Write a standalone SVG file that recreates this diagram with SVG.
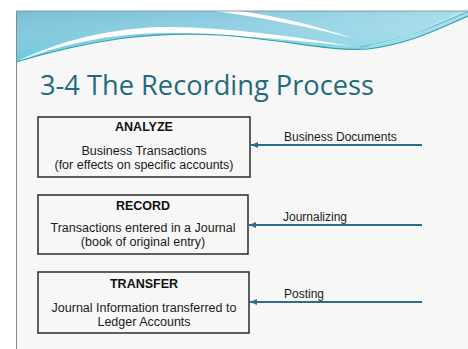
<svg xmlns="http://www.w3.org/2000/svg" width="468" height="349" viewBox="0 0 468 349">
  <style>
    .box { fill: none; stroke: #2b2b2b; stroke-width: 1.5; }
    .head { font-family: "Liberation Sans", Arial, sans-serif; font-size: 12.5px; font-weight: bold; fill: #111; text-anchor: middle; }
    .body { font-family: "Liberation Sans", Arial, sans-serif; font-size: 12.5px; fill: #1a1a1a; text-anchor: middle; }
    .lbl { font-family: "Liberation Sans", Arial, sans-serif; font-size: 12px; fill: #1a1a1a; }
    .arrow { stroke: #2a6f86; stroke-width: 2; fill: none; marker-start: url(#head); }
  </style>
  <defs>
    <linearGradient id="sky" x1="0" y1="0" x2="1" y2="0">
      <stop offset="0" stop-color="#74bfd8"/>
      <stop offset="0.5" stop-color="#88cbe0"/>
      <stop offset="1" stop-color="#a6dcea"/>
    </linearGradient>
    <linearGradient id="skyv" x1="0" y1="0" x2="0" y2="1">
      <stop offset="0" stop-color="#ffffff" stop-opacity="0"/>
      <stop offset="1" stop-color="#5fd3e0" stop-opacity="0.5"/>
    </linearGradient>
    <marker id="head" markerWidth="8" markerHeight="8" refX="1" refY="4" orient="auto" markerUnits="userSpaceOnUse">
      <path d="M8,1 L1,4 L8,7 Z" fill="#2a6f86"/>
    </marker>
  </defs>

  <!-- page and slide background -->
  <rect x="0" y="0" width="468" height="349" fill="#ffffff"/>
  <rect x="16" y="11" width="452" height="338" fill="#f7f7f7"/>

  <!-- header wave -->
  <g id="header">
    <path d="M16,11 H468 V16 C440,28 410,44 368,49 C330,52 290,40 220,35 C150,31 90,40 16,62 Z" fill="url(#sky)"/>
    <path d="M16,11 H468 V16 C440,28 410,44 368,49 C330,52 290,40 220,35 C150,31 90,40 16,62 Z" fill="url(#skyv)"/>
    <!-- white swoosh above the lower edge -->
    <path d="M16,62 C50,45 100,29 160,27 C220,26 290,36 352,46 C290,40 220,33 160,33 C110,34 60,44 16,62 Z" fill="#ffffff"/>
    <!-- white stripe upper right -->
    <path d="M214,11 C260,17 310,27 352,38 C318,26 272,15 238,11 Z" fill="#ffffff"/>
    <!-- teal edge lines -->
    <path d="M16,62 C90,40 150,31 220,35 C290,40 330,52 368,49 C410,44 440,28 468,16" fill="none" stroke="#2aa3b3" stroke-width="1.2"/>
    <path d="M360,47 C405,40 438,24 468,12" fill="none" stroke="#3bb0c0" stroke-width="0.8"/>
    <path d="M370,46 C410,38 440,22 468,9" fill="none" stroke="#c8eef3" stroke-width="0.8"/>
  </g>

  <!-- slide frame lines -->
  <line x1="16" y1="11" x2="468" y2="11" stroke="#8a9aa0" stroke-width="1"/>
  <line x1="16.5" y1="11" x2="16.5" y2="349" stroke="#8a8a8a" stroke-width="1"/>

  <!-- title -->
  <text x="40" y="95" font-family="'Open Sans', 'Noto Sans', sans-serif" font-size="28" fill="#1f6b7c" textLength="334" lengthAdjust="spacingAndGlyphs">3-4 The Recording Process</text>

  <!-- process steps -->
  <g id="analyze">
    <rect class="box" x="38" y="117" width="212" height="60"/>
    <text class="head" x="144" y="131">ANALYZE</text>
    <text class="body" x="144" y="155">Business Transactions</text>
    <text class="body" x="144" y="169">(for effects on specific accounts)</text>
  </g>
  <g id="record">
    <rect class="box" x="38" y="195" width="210" height="59"/>
    <text class="head" x="143" y="210">RECORD</text>
    <text class="body" x="143" y="232">Transactions entered in a Journal</text>
    <text class="body" x="143" y="246">(book of original entry)</text>
  </g>
  <g id="transfer">
    <rect class="box" x="38" y="272" width="211" height="61"/>
    <text class="head" x="144" y="288">TRANSFER</text>
    <text class="body" x="144" y="312">Journal Information transferred to</text>
    <text class="body" x="144" y="326">Ledger Accounts</text>
  </g>

  <!-- source labels -->
  <g id="business-documents">
    <text class="lbl" x="284" y="141">Business Documents</text>
  </g>
  <g id="journalizing">
    <text class="lbl" x="283" y="221">Journalizing</text>
  </g>
  <g id="posting">
    <text class="lbl" x="284" y="298">Posting</text>
  </g>

  <!-- connectors -->
  <g id="connectors">
    <line class="arrow" x1="251" y1="145" x2="422" y2="145"/>
    <line class="arrow" x1="249" y1="225" x2="422" y2="225"/>
    <line class="arrow" x1="250" y1="302" x2="422" y2="302"/>
  </g>
</svg>
